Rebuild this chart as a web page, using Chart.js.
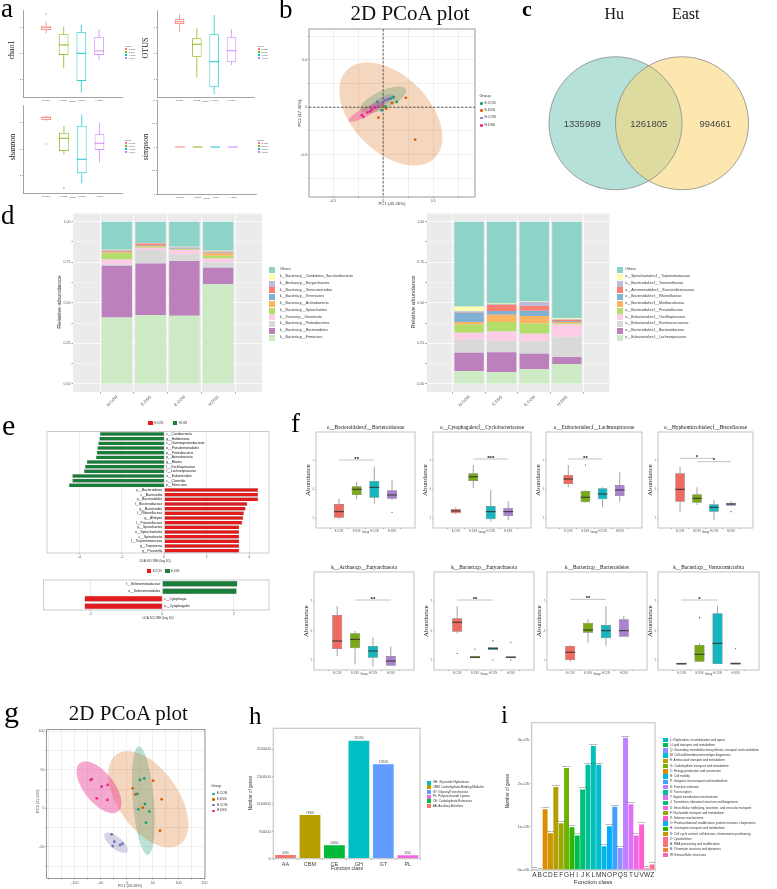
<!DOCTYPE html>
<html>
<head>
<meta charset="utf-8">
<title>Figure</title>
<script src="https://cdn.jsdelivr.net/npm/chart.js@4.4.1/dist/chart.umd.min.js"></script>
<style>
  body { margin: 0; background: #fff; }
  #fig { position: relative; width: 777px; height: 889px; overflow: hidden; background: #fff; }
  #fig canvas { position: absolute; }
  .t { position: absolute; white-space: nowrap; line-height: 1; }
</style>
</head>
<body>
<div id="fig"></div>
<script>
// ---------------- data ----------------

// a: alpha diversity, boxes are [lower whisker, q1, median, q3, upper whisker] on a 0-10 axis
const groups = ['E.CON', 'E.DSS', 'H.CON', 'H.DSS'];
const alphaTicks = [2, 5, 8];
const chao1Box = [[7.32, 7.70, 8.01, 8.20, 8.66], [3.30, 4.83, 5.98, 7.21, 8.08], [0.49, 1.84, 5.02, 7.44, 8.28], [4.25, 4.83, 5.29, 6.86, 7.78]];
const chao1Out = [[9.54], [], [], []];
const otusBox = [[7.51, 8.39, 8.66, 8.97, 9.54], [2.26, 4.63, 6.06, 6.75, 7.90], [0.34, 1.18, 4.06, 7.21, 9.43], [3.68, 4.06, 5.32, 6.86, 7.78]];
const otusOut = [[], [], [], []];
const shannonBox = [[8.20, 8.30, 8.60, 8.67, 8.80], [4.40, 4.77, 6.22, 6.85, 7.61], [1.10, 2.24, 3.83, 7.65, 8.94], [3.49, 4.89, 5.65, 6.67, 7.99]];
const shannonOut = [[5.57], [0.60], [], []];
const simpsonBox = [[5, 5, 5, 5, 5], [5, 5, 5, 5, 5], [5, 5, 5, 5, 5], [5, 5, 5, 5, 5]];
const simpsonTicks = [0, 2.5, 5, 7.5, 10];

// b: PCoA (PC1, PC2) per group
const bEcon = [[0.137, 0.045], [0.02, 0.008], [0.077, 0.073], [-0.017, -0.025], [-0.057, 0.045], [0.103, 0.087]];
const bEdss = [[0.227, 0.079], [0.03, -0.011], [-0.047, -0.087], [0.32, -0.272], [0.087, 0.037], [0.003, 0.008]];
const bHcon = [[0.07, 0.073], [0.02, 0.059], [-0.003, 0.031], [-0.043, 0.008], [0.103, 0.082], [0.047, 0.065]];
const bHdss = [[-0.213, -0.067], [-0.157, -0.045], [-0.113, -0.02], [-0.08, -0.003], [-0.197, -0.081], [-0.13, -0.034]];
// confidence ellipses: centre x, centre y, semi-axis u (x, y), semi-axis v (x, y)
const bEllipses = [[0.0, 0.062, 0.227, 0.089, -0.038, 0.069], [0.077, -0.057, 0.438, -0.370, 0.269, 0.227],
                   [-0.016, 0.047, 0.113, 0.055, -0.02, 0.029], [-0.166, -0.037, 0.177, 0.079, -0.021, 0.034]];
const bXTicks = [-0.5, -0.25, 0, 0.25, 0.5, 0.75];
const bYTicks = [-0.6, -0.4, -0.2, 0, 0.2, 0.4, 0.6];
const bXLabelled = [-0.5, 0, 0.5];
const bYLabelled = [-0.4, 0, 0.4];

// c: Venn
const vennSets = ['Hu', 'East'];
const vennCenters = [-0.5, 0.5];
const vennRadius = 1;
const vennCounts = [1335989, 1261805, 994661];

// d: relative abundance, bottom of the stack first
const dGroups = ['H.CON', 'E.DSS', 'E.CON', 'H.DSS'];
const dTicks = [0, 0.125, 0.25, 0.375, 0.5, 0.625, 0.75, 0.875, 1];
const phylumNames = ['k__Bacteria;p__Firmicutes', 'k__Bacteria;p__Bacteroidetes', 'k__Bacteria;p__Proteobacteria', 'k__Viruses;p__Uroviricota',
  'k__Bacteria;p__Spirochaetes', 'k__Bacteria;p__Actinobacteria', 'k__Bacteria;p__Tenericutes', 'k__Bacteria;p__Verrucomicrobia',
  'k__Archaea;p__Euryarchaeota', 'k__Bacteria;p__Candidatus_Saccharibacteria', 'Others'];
const phylumValues = [
  [0.409, 0.425, 0.421, 0.614], [0.320, 0.318, 0.337, 0.103], [0.008, 0.082, 0.041, 0.033], [0.030, 0.015, 0.026, 0.024],
  [0.040, 0.006, 0.004, 0.016], [0.005, 0.005, 0.003, 0.015], [0.003, 0.002, 0.003, 0.006], [0.006, 0.012, 0.002, 0.004],
  [0.003, 0.002, 0.006, 0.002], [0.003, 0.002, 0.002, 0.004], [0.173, 0.131, 0.155, 0.179]];
const familyNames = ['o__Eubacteriales;f__Lachnospiraceae', 'o__Bacteroidales;f__Bacteroidaceae', 'o__Eubacteriales;f__Ruminococcaceae',
  'o__Eubacteriales;f__Oscillospiraceae', 'o__Bacteroidales;f__Prevotellaceae', 'o__Bacteroidales;f__Muribaculaceae',
  'o__Bacteroidales;f__Rikenellaceae', 'o__Aeromonadales;f__Succinivibrionaceae', 'o__Bacteroidales;f__Tannerellaceae',
  'o__Spirochaetales;f__Treponemataceae', 'Others'];
const familyValues = [
  [0.080, 0.074, 0.092, 0.123], [0.113, 0.121, 0.095, 0.043], [0.080, 0.072, 0.076, 0.125], [0.043, 0.057, 0.047, 0.075],
  [0.050, 0.058, 0.062, 0.006], [0.016, 0.045, 0.047, 0.010], [0.057, 0.023, 0.033, 0.006], [0.003, 0.039, 0.028, 0.008],
  [0.006, 0.004, 0.025, 0.003], [0.030, 0.003, 0.003, 0.006], [0.522, 0.504, 0.492, 0.595]];

// e: LEfSe LDA scores
const ldaTaxa = ['c__Coriobacteriia', 'g__Holdemania', 'c__Gammaproteobacteria', 'o__Pseudomonadales', 'p__Proteobacteria',
  'p__Actinobacteria', 'g__Blautia', 'f__Oscillospiraceae', 'f__Lachnospiraceae', 'o__Eubacteriales', 'c__Clostridia', 'p__Firmicutes',
  'p__Bacteroidetes', 'c__Bacteroidia', 'o__Bacteroidales', 'f__Bacteroidaceae', 'g__Bacteroides', 'f__Rikenellaceae', 'g__Alistipes',
  'f__Prevotellaceae', 'p__Spirochaetes', 'o__Spirochaetales', 'c__Spirochaetia', 'f__Treponemataceae', 'g__Treponema', 'g__Prevotella'];
const ldaScores = [-3.03, -3.06, -3.11, -3.15, -3.18, -3.22, -3.65, -3.73, -3.78, -4.33, -4.33, -4.49,
  4.42, 4.42, 4.42, 3.91, 3.83, 3.75, 3.72, 3.67, 3.53, 3.53, 3.53, 3.53, 3.53, 3.53];
const ldaGroups = ['H.CON', 'H.DSS'];
const lda2Taxa = ['f__Selenomonadaceae', 'o__Selenomonadales', 'c__Cytophagia', 'o__Cytophagales'];
const lda2Scores = [2.10, 2.08, -2.17, -2.17];
const lda2Groups = ['E.CON', 'E.DSS'];

// f: differential taxa, boxes on a 0-10 axis
const fTitles = ['o__Bacteroidales;f__Bacteroidaceae', 'o__Cytophagales;f__Cyclobacteriaceae', 'o__Eubacteriales;f__Lachnospiraceae',
  'o__Hyphomicrobiales;f__Brucellaceae', 'k__Archaea;p__Euryarchaeota', 'k__Bacteria;p__Euryarchaeota', 'k__Bacteria;p__Bacteroidetes',
  'k__Bacteria;p__Verrucomicrobia'];
const fTicks = [1, 4, 7];
const fBoxes = [
  [[0.91, 1.07, 1.70, 2.50, 3.02], [2.99, 3.44, 4.03, 4.34, 4.82], [2.53, 3.16, 4.24, 4.90, 6.39], [2.92, 3.05, 3.44, 3.93, 5.00]],
  [[1.43, 1.53, 1.77, 1.98, 2.16], [4.14, 4.90, 5.34, 5.70, 6.56], [0.66, 0.91, 1.70, 2.29, 3.96], [0.83, 1.25, 1.70, 2.11, 2.81]],
  [[4.24, 4.58, 5.10, 5.52, 6.56], [2.60, 2.68, 3.20, 3.85, 3.95], [2.16, 2.99, 3.54, 4.14, 4.24], [2.74, 3.33, 3.96, 4.48, 5.80]],
  [[1.70, 2.74, 4.03, 5.70, 6.39], [2.40, 2.64, 3.09, 3.51, 4.24], [0.83, 1.70, 2.16, 2.47, 2.92], [2.32, 2.32, 2.50, 2.64, 2.81]],
  [[1.43, 2.14, 2.96, 5.61, 6.53], [0.58, 2.21, 3.13, 3.74, 3.98], [0.34, 1.26, 1.94, 2.45, 3.34], [0.44, 0.44, 0.92, 1.43, 2.38]],
  [[3.74, 3.91, 4.87, 5.28, 6.53], [1.19, 1.19, 1.30, 1.43, 1.43], [2.04, 2.04, 2.21, 2.32, 2.32], [1.19, 1.19, 1.30, 1.40, 1.40]],
  [[0.85, 1.02, 1.81, 2.45, 2.55], [2.79, 3.81, 4.08, 4.83, 5.17], [2.48, 3.23, 4.01, 4.59, 6.53], [3.40, 3.40, 4.01, 5.17, 5.51]],
  [[0.54, 0.54, 0.64, 0.74, 0.74], [0.85, 0.85, 1.60, 2.55, 2.72], [0.61, 0.61, 2.72, 5.79, 6.53], [0.54, 0.54, 0.68, 0.74, 0.74]]];
const fOutliers = [
  [[], [], [], [1.64]], [[], [], [], []], [[], [6.56], [], []], [[], [], [], [1.70]],
  [[], [], [], []], [[1.70], [2.14], [2.99, 1.02], [2.83, 1.02]], [[], [], [], []], [[], [5.34], [], [2.17]]];
// significance bars: [group from, group to, height, mark]
const fSig = [
  [[1, 3, 7.08, '**']], [[2, 4, 7.19, '***']], [[1, 3, 7.19, '**']], [[1, 3, 7.26, '*'], [2, 4, 6.91, '*']],
  [[2, 4, 7.14, '**']], [[1, 3, 7.14, '**']], [[1, 3, 7.21, '**']], [[1, 3, 7.14, '*']]];

// g: PCoA
const gEcon = [[33.9, 38.9], [25.6, 36.8], [20.4, 18.6], [35.2, 5.6], [22.4, -1.3], [43.5, -4.3], [37.1, -18.7]];
const gEdss = [[50.9, 35.9], [11.6, 26.0], [16.5, 18.0], [30.8, 0.8], [67.4, 11.7], [64.2, -29.1]];
const gHcon = [[-28.9, -33.8], [-23.9, -43.4], [-27.0, -49.0], [-12.9, -47.7], [-8.4, -46.0]];
const gHdss = [[-69.4, 36.8], [-67.5, 38.0], [-48.2, 28.1], [-36.6, 30.3], [-57.8, 13.0], [-37.2, 10.8]];
const gEllipses = [[32, 9.9, 8.7, -70.4, 20.2, 1.1], [41.6, 11.7, 60.9, -58.4, 47.4, 22.4],
                   [-20.6, -44.7, 21.6, -11.9, 7.3, 6.0], [-53.4, 27.3, 37.0, -31.4, 22.6, 12.1]];
const gXTicks = [-150, -125, -100, -75, -50, -25, 0, 25, 50, 75, 100, 125, 150];
const gYTicks = [-75, -50, -25, 0, 25, 50, 75, 100];
const gXLabelled = [-100, -50, 0, 50, 100, 150];
const gYLabelled = [-50, 0, 50, 100];

// h: CAZy classes
const cazyClasses = ['AA', 'CBM', 'CE', 'GH', 'GT', 'PL'];
const cazyGenes = [6760, 79900, 24500, 215700, 172600, 6200];
const cazyTicks = [0, 50000, 100000, 150000, 200000];
const cazyLegendCodes = ['GH', 'CBM', 'GT', 'PL', 'CE', 'AA'];
const cazyLegendText = ['GH: Glycoside Hydrolases', 'CBM: Carbohydrate-Binding Modules', 'GT: GlycosylTransferases',
  'PL: Polysaccharide Lyases', 'CE: Carbohydrate Esterases', 'AA: Auxiliary Activities'];

// i: COG function classes
const cogClasses = ['A', 'B', 'C', 'D', 'E', 'F', 'G', 'H', 'I', 'J', 'K', 'L', 'M', 'N', 'O', 'P', 'Q', 'S', 'T', 'U', 'V', 'W', 'Z'];
const cogGenes = [1500, 760, 140500, 85000, 191300, 107800, 235400, 98700, 79700, 186000, 243000, 286300, 243000, 54700,
  101000, 145800, 50900, 305200, 151900, 79700, 104800, 3800, 12900];
const cogTicks = [0, 100000, 200000, 300000];
const cogLegendCodes = ['L', 'I', 'Q', 'M', 'E', 'G', 'C', 'N', 'P', 'S', 'K', 'T', 'J', 'U', 'F', 'V', 'O', 'H', 'D', 'Z', 'A', 'B', 'W'];
const cogLegendText = ['L: Replication, recombination and repair', 'I: Lipid transport and metabolism',
  'Q: Secondary metabolites biosynthesis, transport and catabolism', 'M: Cell wall/membrane/envelope biogenesis',
  'E: Amino acid transport and metabolism', 'G: Carbohydrate transport and metabolism', 'C: Energy production and conversion',
  'N: Cell motility', 'P: Inorganic ion transport and metabolism', 'S: Function unknown', 'K: Transcription',
  'T: Signal transduction mechanisms', 'J: Translation, ribosomal structure and biogenesis',
  'U: Intracellular trafficking, secretion, and vesicular transport', 'F: Nucleotide transport and metabolism',
  'V: Defense mechanisms', 'O: Posttranslational modification, protein turnover, chaperones',
  'H: Coenzyme transport and metabolism', 'D: Cell cycle control, cell division, chromosome partitioning', 'Z: Cytoskeleton',
  'A: RNA processing and modification', 'B: Chromatin structure and dynamics', 'W: Extracellular structures'];

// ---------------- helpers ----------------
const SANS = '"Liberation Sans", Arial, sans-serif';
const SERIF = '"Liberation Serif", "Times New Roman", serif';
Chart.defaults.font.family = SANS;
Chart.defaults.color = '#555';
Chart.defaults.animation = false;
Chart.defaults.responsive = false;
Chart.defaults.events = [];
Chart.defaults.plugins.legend.display = false;
Chart.defaults.plugins.tooltip.enabled = false;

const fig = document.getElementById('fig');
const dark2 = ['#1b9e77', '#d95f02', '#7570b3', '#e7298a'];
const set3Stack = ['#ccebc5', '#bc80bd', '#d9d9d9', '#fccde5', '#b3de69', '#fdb462', '#80b1d3', '#fb8072', '#bebada', '#ffffb3', '#8dd3c7'];
const hue4 = huePalette(4);
const fFill = ['#ef6a60', '#78a815', '#17b5bd', '#a983cf'];
const ldaRed = '#e31a1c', ldaGreen = '#1b7d3a';

// ggplot-like hue colours (HCL, c = 100, l = 65)
function hueColor(h) {
  const L = 65, C = 100, rad = h * Math.PI / 180;
  const u = C * Math.cos(rad), v = C * Math.sin(rad);
  const Xn = 95.047, Yn = 100, Zn = 108.883;
  const den = Xn + 15 * Yn + 3 * Zn;
  const Y = Yn * Math.pow((L + 16) / 116, 3);
  const up = u / (13 * L) + 4 * Xn / den, vp = v / (13 * L) + 9 * Yn / den;
  const X = Y * 9 * up / (4 * vp), Z = Y * (12 - 3 * up - 20 * vp) / (4 * vp);
  const lin = [3.2404542 * X - 1.5371385 * Y - 0.4985314 * Z,
               -0.9692660 * X + 1.8760108 * Y + 0.0415560 * Z,
               0.0556434 * X - 0.2040259 * Y + 1.0572252 * Z];
  return '#' + lin.map(c => {
    c /= 100;
    c = c <= 0.0031308 ? 12.92 * c : 1.055 * Math.pow(c, 1 / 2.4) - 0.055;
    return Math.round(Math.min(1, Math.max(0, c)) * 255).toString(16).padStart(2, '0');
  }).join('');
}
function huePalette(n) {
  return Array.from({length: n}, (_, i) => hueColor(15 + 360 * i / n));
}

function txt(s, x, y, size, o = {}) {
  const d = document.createElement('div');
  d.className = 't';
  d.textContent = s;
  d.style.fontSize = size + 'px';
  d.style.fontFamily = o.serif ? SERIF : SANS;
  if (o.bold) d.style.fontWeight = 'bold';
  d.style.color = o.color || '#222';
  d.style.left = x + 'px';
  if (o.rot) {
    d.style.top = y + 'px';
    d.style.transform = 'translate(-50%,-50%) rotate(-90deg)';
  } else {
    d.style.top = (y - 0.84 * size) + 'px';
    if (o.align === 'center') d.style.transform = 'translateX(-50%)';
    if (o.align === 'right') d.style.transform = 'translateX(-100%)';
  }
  fig.appendChild(d);
}

function keyLegend(labels, colors, x, y0, dy, key, fs, o = {}) {
  labels.forEach((lab, k) => {
    const y = y0 + k * dy;
    const b = document.createElement('div');
    b.style.position = 'absolute';
    b.style.left = (o.dot ? x - key / 2 : x) + 'px';
    b.style.top = (y - key / 2) + 'px';
    b.style.width = key + 'px';
    b.style.height = key + 'px';
    if (o.dot) b.style.borderRadius = '50%';
    if (o.outline) { b.style.boxSizing = 'border-box'; b.style.border = '0.5px solid ' + colors[k]; }
    else b.style.background = colors[k];
    fig.appendChild(b);
    txt(lab, x + (o.gap || key + 1.5), y + 0.36 * fs, fs, {color: o.color || '#333'});
  });
}

// place a chart so that its plotting area lands on area = [left, top, right, bottom]
function makeChart(box, area, config) {
  const [X, Y, W, H] = box;
  const cv = document.createElement('canvas');
  cv.width = W; cv.height = H;
  Object.assign(cv.style, {left: X + 'px', top: Y + 'px', width: W + 'px', height: H + 'px'});
  fig.appendChild(cv);
  const o = config.options;
  const xs = o.scales.x, ys = o.scales.y;
  const pad = {top: area[1] - Y, right: X + W - area[2], left: 0, bottom: 0};
  if (ys.display === false) pad.left = area[0] - X; else ys.afterFit = s => { s.width = area[0] - X; };
  if (xs.display === false) pad.bottom = Y + H - area[3]; else xs.afterFit = s => { s.height = Y + H - area[3]; };
  o.layout = {padding: pad};
  return new Chart(cv, config);
}

function linAxis(min, max, ticks, label, o = {}) {
  return {
    type: 'linear', min, max, stacked: o.stacked,
    afterBuildTicks: s => { s.ticks = ticks.map(v => ({value: v})); },
    ticks: {autoSkip: false, maxRotation: o.rot || 0, minRotation: o.rot || 0, padding: o.pad ?? 1,
      font: {size: o.fs || 4}, color: o.tc || '#555', callback: v => label(v)},
    grid: {display: true, drawOnChartArea: !!o.grid, color: o.grid || '#555', lineWidth: o.glw || 0.5,
      drawTicks: o.tl !== 0, tickLength: o.tl ?? 1.5, tickColor: o.tick || '#666', tickWidth: 0.5},
    border: {display: !!o.line, color: o.line || '#555', width: 0.6}
  };
}

function frame(bg, border, bw) {
  return {
    id: 'frame',
    beforeDraw(c) {
      if (!bg) return;
      const a = c.chartArea;
      c.ctx.save();
      c.ctx.fillStyle = bg;
      c.ctx.fillRect(a.left, a.top, a.width, a.height);
      c.ctx.restore();
    },
    afterDraw(c) {
      if (!border) return;
      const a = c.chartArea;
      c.ctx.save();
      c.ctx.strokeStyle = border;
      c.ctx.lineWidth = bw;
      c.ctx.strokeRect(a.left, a.top, a.width, a.height);
      c.ctx.restore();
    }
  };
}

function boxPlot(box, area, stats, outs, sigs, st) {
  return makeChart(box, area, {
    type: 'bar',
    data: {datasets: [{
      data: stats.map((s, i) => ({x: i + 1, y: [s[1], s[3]]})),
      backgroundColor: st.fill, borderColor: st.stroke, borderWidth: st.lw,
      borderSkipped: false, barPercentage: st.bw, categoryPercentage: 1
    }]},
    options: {scales: {
      x: linAxis(0.4, 4.6, [1, 2, 3, 4], v => groups[v - 1] || '', {fs: st.fs, line: st.axis, tl: 1}),
      y: linAxis(0, 10, st.ticks, v => String(v), {fs: st.fs, line: st.axis, tl: 1})
    }},
    plugins: [frame(null, st.border, 0.6), {
      id: 'boxParts',
      afterDatasetsDraw(c) {
        const ctx = c.ctx, xs = c.scales.x, ys = c.scales.y;
        const bars = c.getDatasetMeta(0).data;
        ctx.save();
        stats.forEach((s, i) => {
          const cx = xs.getPixelForValue(i + 1), hw = bars[i].width / 2;
          const col = Array.isArray(st.stroke) ? st.stroke[i] : st.stroke;
          ctx.strokeStyle = col;
          ctx.lineWidth = st.lw;
          ctx.beginPath();
          ctx.moveTo(cx, ys.getPixelForValue(s[3])); ctx.lineTo(cx, ys.getPixelForValue(s[4]));
          ctx.moveTo(cx, ys.getPixelForValue(s[1])); ctx.lineTo(cx, ys.getPixelForValue(s[0]));
          ctx.stroke();
          ctx.strokeStyle = st.median || col;
          ctx.lineWidth = st.mlw;
          const my = ys.getPixelForValue(s[2]);
          ctx.beginPath(); ctx.moveTo(cx - hw, my); ctx.lineTo(cx + hw, my); ctx.stroke();
          ctx.fillStyle = st.outColor || col;
          (outs[i] || []).forEach(v => {
            ctx.beginPath(); ctx.arc(cx, ys.getPixelForValue(v), st.outR, 0, 2 * Math.PI); ctx.fill();
          });
        });
        (sigs || []).forEach(([g1, g2, v, mark]) => {
          const y = ys.getPixelForValue(v), x1 = xs.getPixelForValue(g1), x2 = xs.getPixelForValue(g2);
          ctx.strokeStyle = '#9a9a9a'; ctx.lineWidth = 0.6;
          ctx.beginPath(); ctx.moveTo(x1, y); ctx.lineTo(x2, y); ctx.stroke();
          ctx.fillStyle = '#111'; ctx.font = 'bold 6px ' + SANS;
          ctx.textAlign = 'center'; ctx.textBaseline = 'bottom';
          ctx.fillText(mark, (x1 + x2) / 2, y + 2);
        });
        ctx.restore();
      }
    }]
  });
}

function ellipsePlugin(ells, fills) {
  return {
    id: 'ellipses',
    beforeDatasetsDraw(c) {
      const ctx = c.ctx, xs = c.scales.x, ys = c.scales.y, a = c.chartArea;
      ctx.save();
      ctx.beginPath(); ctx.rect(a.left, a.top, a.width, a.height); ctx.clip();
      ells.forEach((e, k) => {
        ctx.beginPath();
        for (let j = 0; j <= 90; j++) {
          const t = j / 90 * 2 * Math.PI;
          const x = xs.getPixelForValue(e[0] + e[2] * Math.cos(t) + e[4] * Math.sin(t));
          const y = ys.getPixelForValue(e[1] + e[3] * Math.cos(t) + e[5] * Math.sin(t));
          if (j) ctx.lineTo(x, y); else ctx.moveTo(x, y);
        }
        ctx.closePath();
        ctx.fillStyle = fills[k];
        ctx.fill();
      });
      ctx.restore();
    }
  };
}

// dashed reference lines through the origin
const zeroLines = {
  id: 'zeroLines',
  beforeDatasetsDraw(c) {
    const ctx = c.ctx, a = c.chartArea;
    const x0 = c.scales.x.getPixelForValue(0), y0 = c.scales.y.getPixelForValue(0);
    ctx.save();
    ctx.setLineDash([2.5, 1.5]);
    ctx.strokeStyle = '#222'; ctx.lineWidth = 0.7;
    ctx.beginPath();
    ctx.moveTo(x0, a.top); ctx.lineTo(x0, a.bottom);
    ctx.moveTo(a.left, y0); ctx.lineTo(a.right, y0);
    ctx.stroke();
    ctx.restore();
  }
};

function pcoa(box, area, sets, ells, fills, xr, yr, xt, yt, xl, yl, extra) {
  return makeChart(box, area, {
    type: 'scatter',
    data: {datasets: sets.map((pts, k) => ({
      data: pts.map(p => ({x: p[0], y: p[1]})),
      pointRadius: 1.4, pointBackgroundColor: dark2[k], pointBorderWidth: 0
    }))},
    options: {scales: {
      x: linAxis(xr[0], xr[1], xt, v => xl.includes(v) ? String(v) : '', {fs: 3.6, grid: '#e6e6e6', glw: 0.6, tl: 1.2}),
      y: linAxis(yr[0], yr[1], yt, v => yl.includes(v) ? String(v) : '', {fs: 3.6, grid: '#e6e6e6', glw: 0.6, tl: 1.2})
    }},
    plugins: [frame(null, '#555', 0.6), ellipsePlugin(ells, fills)].concat(extra || [])
  });
}

function ldaChart(box, area, taxa, scores, colors, xr, xt, barPct) {
  return makeChart(box, area, {
    type: 'bar',
    data: {labels: taxa, datasets: [{
      data: scores,
      backgroundColor: scores.map(v => v > 0 ? colors[0] : colors[1]),
      borderColor: '#888', borderWidth: 0.4, barPercentage: barPct, categoryPercentage: 1
    }]},
    options: {indexAxis: 'y', scales: {
      x: linAxis(xr[0], xr[1], xt, v => String(v), {fs: 3.3, grid: '#dedede', glw: 0.6, tl: 1}),
      y: {type: 'category', ticks: {display: false}, grid: {display: false}, border: {display: false}}
    }},
    plugins: [frame(null, '#aaa', 0.6), {
      id: 'ldaLabels',
      afterDatasetsDraw(c) {
        const ctx = c.ctx, x0 = c.scales.x.getPixelForValue(0);
        ctx.save();
        ctx.font = '3.3px ' + SANS; ctx.fillStyle = '#111'; ctx.textBaseline = 'middle';
        taxa.forEach((t, i) => {
          const y = c.scales.y.getPixelForValue(i);
          ctx.textAlign = scores[i] > 0 ? 'right' : 'left';
          ctx.fillText(t, scores[i] > 0 ? x0 - 2 : x0 + 2, y);
        });
        ctx.restore();
      }
    }]
  });
}

function barLabels(fs) {
  return {
    id: 'barLabels',
    afterDatasetsDraw(c) {
      const ctx = c.ctx, vals = c.data.datasets[0].data;
      ctx.save();
      ctx.font = fs + 'px ' + SANS; ctx.fillStyle = '#444';
      ctx.textAlign = 'center'; ctx.textBaseline = 'bottom';
      c.getDatasetMeta(0).data.forEach((bar, i) => ctx.fillText(String(vals[i]), bar.x, bar.y - 0.6));
      ctx.restore();
    }
  };
}

function fmtSci(v) {
  if (v === 0) return '0e+00';
  const e = Math.floor(Math.log10(v));
  return Math.round(v / Math.pow(10, e)) + 'e+' + String(e).padStart(2, '0');
}

// ---------------- a ----------------
const aStyle = {fill: 'rgba(0,0,0,0)', stroke: hue4, lw: 0.7, mlw: 0.9, bw: 0.55, outR: 0.7, ticks: alphaTicks, fs: 2.3, axis: '#666', border: null};
boxPlot([0, 4, 135, 104], [23, 10, 122, 97], chao1Box, chao1Out, [], aStyle);
boxPlot([135, 4, 125, 104], [157, 10, 254, 97], otusBox, otusOut, [], aStyle);
boxPlot([0, 101, 135, 104], [23, 105, 122.6, 193], shannonBox, shannonOut, [], aStyle);
boxPlot([135, 96, 125, 108], [157, 100, 256, 194], simpsonBox, [[], [], [], []], [], Object.assign({}, aStyle, {ticks: simpsonTicks}));

// ---------------- b ----------------
pcoa([285, 24, 195, 185], [309, 29, 475, 197], [bEcon, bEdss, bHcon, bHdss], bEllipses,
  ['rgba(27,158,119,0.3)', 'rgba(217,95,2,0.25)', 'rgba(117,112,179,0.3)', 'rgba(231,41,138,0.35)'],
  [-0.74, 0.917], [-0.756, 0.659], bXTicks, bYTicks, bXLabelled, bYLabelled, [zeroLines]);

// ---------------- c ----------------
makeChart([540, 35, 237, 175], [549, 43.5, 748.5, 203], {
  type: 'scatter',
  data: {datasets: []},
  options: {scales: {x: {type: 'linear', min: -1.5, max: 1.5, display: false}, y: {type: 'linear', min: -1.2, max: 1.2, display: false}}},
  plugins: [{
    id: 'venn',
    afterDraw(c) {
      const ctx = c.ctx, xs = c.scales.x, ys = c.scales.y;
      const r = xs.getPixelForValue(vennRadius) - xs.getPixelForValue(0), cy = ys.getPixelForValue(0);
      const fills = ['rgba(120,200,185,0.55)', 'rgba(250,215,120,0.6)'];
      ctx.save();
      vennCenters.forEach((cx, k) => {
        ctx.beginPath(); ctx.arc(xs.getPixelForValue(cx), cy, r, 0, 2 * Math.PI);
        ctx.fillStyle = fills[k]; ctx.fill();
      });
      vennCenters.forEach(cx => {
        ctx.beginPath(); ctx.arc(xs.getPixelForValue(cx), cy, r, 0, 2 * Math.PI);
        ctx.strokeStyle = '#8a8a8a'; ctx.lineWidth = 0.8; ctx.stroke();
      });
      // label spots: left only, shared, right only
      const [l, rr] = vennCenters;
      const spots = [(l - vennRadius + rr - vennRadius) / 2, (l + rr) / 2, (l + vennRadius + rr + vennRadius) / 2];
      ctx.font = '9.5px ' + SANS; ctx.fillStyle = '#444';
      ctx.textAlign = 'center'; ctx.textBaseline = 'middle';
      vennCounts.forEach((n, k) => ctx.fillText(String(n), xs.getPixelForValue(spots[k]), cy + 1));
      ctx.restore();
    }
  }]
});

// ---------------- d ----------------
function stackChart(box, area, values) {
  return makeChart(box, area, {
    type: 'bar',
    data: {datasets: values.map((vals, k) => ({
      data: vals.map((v, i) => ({x: i + 1, y: v})),
      backgroundColor: set3Stack[k], barPercentage: 0.9, categoryPercentage: 1
    }))},
    options: {scales: {
      x: linAxis(0.4, 4.6, [1, 2, 3, 4], v => dGroups[v - 1] || '', {fs: 4.2, rot: 45, stacked: true, grid: '#fff', glw: 0.8, tl: 1.5, tick: '#444'}),
      y: linAxis(-0.05, 1.05, dTicks, v => (v * 4) % 1 === 0 ? v.toFixed(2) : '',
        {fs: 3.6, stacked: true, grid: '#fff', glw: ctx => ctx.tick && (ctx.tick.value * 4) % 1 === 0 ? 0.8 : 0.4, tl: 1.5, tick: '#444'})
    }},
    plugins: [frame('#ebebeb', null, 0)]
  });
}
stackChart([40, 205, 230, 205], [73, 213.6, 262, 392.1], phylumValues);
stackChart([395, 205, 230, 205], [426.7, 213.6, 609.3, 392.1], familyValues);

// ---------------- e ----------------
ldaChart([10, 425, 262, 140], [47, 431.7, 269, 553], ldaTaxa, ldaScores, [ldaRed, ldaGreen], [-5.52, 4.93], [-4, -2, 0, 2, 4], 0.85);
ldaChart([10, 575, 262, 45], [43.3, 580, 269, 610], lda2Taxa, lda2Scores, [ldaGreen, ldaRed], [-3.32, 2.98], [-2, 0, 2], 0.8);

// ---------------- f ----------------
const fPanels = [
  [[298, 428, 120, 112], [316, 432, 415, 528]], [[415, 428, 119, 112], [433, 432, 531, 528]],
  [[528, 428, 117, 112], [546, 432, 642, 528]], [[640, 428, 116, 112], [658, 432, 753, 528]],
  [[296, 568, 121, 112], [314, 572, 414, 670]], [[416, 568, 121, 112], [434, 572, 534, 670]],
  [[529, 568, 121, 112], [547, 572, 647, 670]], [[640, 568, 122, 112], [658, 572, 759, 670]]];
const fStyle = {fill: fFill, stroke: '#444', lw: 0.5, median: '#333', mlw: 1, bw: 0.56, outR: 0.6, outColor: '#333', ticks: fTicks, fs: 2.6, axis: null, border: '#9a9a9a'};
fPanels.forEach(([box, area], k) => boxPlot(box, area, fBoxes[k], fOutliers[k], fSig[k], fStyle));

// ---------------- g ----------------
pcoa([22, 722, 205, 167], [46.7, 729.3, 205, 878.3], [gEcon, gEdss, gHcon, gHdss], gEllipses,
  ['rgba(27,158,119,0.3)', 'rgba(217,95,2,0.25)', 'rgba(117,112,179,0.3)', 'rgba(231,41,138,0.4)'],
  [-154.2, 150.9], [-90.9, 102.6], gXTicks, gYTicks, gXLabelled, gYLabelled);

// ---------------- h ----------------
const hue6 = huePalette(6);
makeChart([245, 722, 180, 160], [273.3, 728.3, 420, 858.7], {
  type: 'bar',
  data: {labels: cazyClasses, datasets: [{data: cazyGenes, backgroundColor: hue6, barPercentage: 0.85, categoryPercentage: 1}]},
  options: {scales: {
    x: {type: 'category', ticks: {font: {size: 5.5}, color: '#444', padding: 1},
        grid: {display: true, drawOnChartArea: false, tickLength: 1.5, tickColor: '#666', tickWidth: 0.5}, border: {display: false}},
    y: linAxis(0, 238400, cazyTicks, v => String(v), {fs: 4.2, tl: 1.5})
  }},
  plugins: [frame(null, '#c8c8c8', 1.2), barLabels(2.8)]
});

// ---------------- i ----------------
const hue23 = huePalette(23);
makeChart([505, 715, 155, 170], [531.7, 722.7, 655, 870], {
  type: 'bar',
  data: {labels: cogClasses, datasets: [{data: cogGenes, backgroundColor: hue23, barPercentage: 0.92, categoryPercentage: 1}]},
  options: {scales: {
    x: {type: 'category', ticks: {font: {size: 6.5}, color: '#333', padding: 0.5, autoSkip: false, maxRotation: 0},
        grid: {display: true, drawOnChartArea: false, tickLength: 1.2, tickColor: '#666', tickWidth: 0.5}, border: {display: false}},
    y: linAxis(0, 340000, cogTicks, fmtSci, {fs: 4.2, tl: 1.5})
  }},
  plugins: [frame(null, '#c8c8c8', 1.2), barLabels(2.4)]
});

// ---------------- text ----------------
[['a', 1, 18, 27], ['b', 279, 18.3, 27], ['d', 1, 225, 27], ['e', 2, 435, 30], ['f', 291, 433, 27],
 ['g', 4, 722, 30], ['h', 249, 724, 25], ['i', 501, 723, 25]].forEach(([s, x, y, f]) => txt(s, x, y, f, {serif: true, color: '#000'}));
txt('c', 522, 16.7, 22, {serif: true, bold: true, color: '#000'});

// a
txt('chao1', 11.7, 50, 8, {serif: true, rot: true});
txt('OTUS', 146, 48, 8, {serif: true, rot: true});
txt('shannon', 13.3, 147, 8, {serif: true, rot: true});
txt('simpson', 146, 147, 8, {serif: true, rot: true});
[[72.5, 102], [205.5, 102], [72.8, 197.5], [206.5, 198.5]].forEach(([x, y]) => txt('Group', x, y, 2.3, {align: 'center', color: '#444'}));
[[125, 46.5], [257.5, 46.5], [125, 140.5], [257.5, 140.5]].forEach(([x, y]) => {
  txt('Group', x, y, 2.3, {color: '#444'});
  keyLegend(groups, hue4, x, y + 2.8, 3, 2.2, 2.1, {outline: true, color: '#555'});
});

// b
txt('2D PCoA plot', 410, 20.7, 21, {serif: true, align: 'center', color: '#111'});
txt('PC1 (45.26%)', 392, 206, 4.3, {align: 'center', color: '#333'});
txt('PC2 (17.36%)', 299.5, 113, 4.3, {rot: true, color: '#333'});
txt('Group', 479.5, 97.5, 4, {color: '#333'});
keyLegend(groups, dark2, 481.5, 103.3, 7.4, 2.6, 3.5, {dot: true, gap: 3});

// c
txt(vennSets[0], 614.3, 19, 16, {serif: true, align: 'center', color: '#111'});
txt(vennSets[1], 685.7, 19, 16, {serif: true, align: 'center', color: '#111'});

// d
txt('Relative abundance', 58.7, 302, 6, {rot: true, color: '#333'});
txt('Relative abundance', 413.3, 302, 6, {rot: true, color: '#333'});
keyLegend(phylumNames.slice().reverse(), set3Stack.slice().reverse(), 269.3, 270, 6.77, 6, 3.6, {gap: 10.5});
keyLegend(familyNames.slice().reverse(), set3Stack.slice().reverse(), 616.7, 270, 6.77, 6, 3.6, {gap: 8.5});

// e
keyLegend([ldaGroups[0]], [ldaRed], 148.3, 423, 0, 4.5, 2.8, {gap: 6});
keyLegend([ldaGroups[1]], [ldaGreen], 172.7, 423, 0, 4.5, 2.8, {gap: 6});
txt('LDA SCORE (log 10)', 155, 563, 3.3, {align: 'center', color: '#333'});
keyLegend([lda2Groups[0]], [ldaRed], 146.7, 571, 0, 4.5, 2.8, {gap: 6});
keyLegend([lda2Groups[1]], [ldaGreen], 165, 571, 0, 4.5, 2.8, {gap: 6});
txt('LDA SCORE (log 10)', 158, 620, 3.3, {align: 'center', color: '#333'});

// f
fPanels.forEach(([box, area], k) => {
  const cx = (area[0] + area[2]) / 2;
  txt(fTitles[k], cx, area[1] - 3, 5.3, {serif: true, align: 'center', color: '#111'});
  txt('Abundance', area[0] - 8, (area[1] + area[3]) / 2, 7, {serif: true, rot: true, color: '#222'});
  txt('Group', cx, area[3] + 6.5, 2.6, {align: 'center', color: '#444'});
});

// g
txt('2D PCoA plot', 128.3, 720.7, 21, {serif: true, align: 'center', color: '#111'});
txt('PC1 (20.26%)', 130, 888, 3.8, {align: 'center', color: '#333'});
txt('PC2 (11.11%)', 39, 801, 3.8, {rot: true, color: '#333'});
txt('Group', 211.2, 788, 3.6, {color: '#333'});
keyLegend(groups, dark2, 213.5, 794, 5.6, 2.4, 3.3, {dot: true, gap: 3.2});

// h
txt('Number of genes', 251, 793, 4.5, {rot: true, color: '#333'});
txt('Function class', 347, 870, 5, {align: 'center', color: '#333'});
keyLegend(cazyLegendText, cazyLegendCodes.map(c => hue6[cazyClasses.indexOf(c)]), 426.7, 782.7, 4.67, 4, 3.1, {gap: 6});

// i
txt('Number of genes', 508, 791, 4.5, {rot: true, color: '#333'});
txt('Function class', 593, 884, 6, {align: 'center', color: '#333'});
keyLegend(cogLegendText, cogLegendCodes.map(c => hue23[cogClasses.indexOf(c)]), 663.3, 740, 5.23, 4.5, 3.1, {gap: 6.7});
</script>
</body>
</html>
